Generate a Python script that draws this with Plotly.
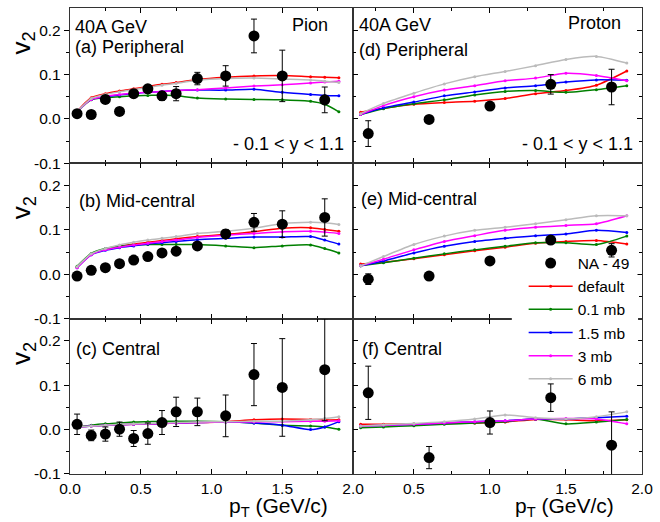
import plotly.graph_objects as go
from plotly.subplots import make_subplots

# ---------------- data ----------------
pion_pt = [0.05, 0.15, 0.25, 0.35, 0.45, 0.55, 0.65, 0.75, 0.9, 1.1, 1.3, 1.5, 1.8]
proton_pt = [0.2, 0.6, 1.0, 1.4, 1.8]
pion_model_pt = [0.05, 0.15, 0.25, 0.35, 0.45, 0.55, 0.65, 0.75, 0.9, 1.1, 1.3, 1.5, 1.7, 1.8, 1.9]
proton_model_pt = [0.15, 0.3, 0.5, 0.7, 0.9, 1.1, 1.3, 1.5, 1.7, 1.9]

model_names = ["default", "0.1 mb", "1.5 mb", "3 mb", "6 mb"]
model_colors = ["#FF0000", "#008000", "#0000FF", "#FF00FF", "#BBBBBB"]

# (a) pion peripheral
a_v2 = [0.012, 0.010, 0.044, 0.017, 0.057, 0.068, 0.052, 0.057, 0.091, 0.097, 0.187, 0.097, 0.043]
a_err = [0.004, 0.004, 0.008, 0.005, 0.008, 0.008, 0.010, 0.016, 0.014, 0.023, 0.038, 0.058, 0.029]
a_default = [0.017, 0.048, 0.057, 0.063, 0.068, 0.073, 0.078, 0.082, 0.089, 0.094, 0.097, 0.098, 0.095, 0.094, 0.093]
a_01mb = [0.016, 0.043, 0.048, 0.050, 0.052, 0.053, 0.054, 0.052, 0.047, 0.045, 0.044, 0.043, 0.040, 0.033, 0.016]
a_15mb = [0.016, 0.044, 0.050, 0.054, 0.057, 0.060, 0.062, 0.064, 0.065, 0.065, 0.067, 0.060, 0.055, 0.053, 0.052]
a_3mb = [0.016, 0.044, 0.051, 0.055, 0.058, 0.060, 0.062, 0.064, 0.066, 0.070, 0.074, 0.077, 0.081, 0.083, 0.085]
a_6mb = [0.016, 0.046, 0.055, 0.061, 0.066, 0.071, 0.076, 0.080, 0.087, 0.091, 0.092, 0.090, 0.088, 0.085, 0.082]

# (b) pion mid-central
b_v2 = [-0.004, 0.009, 0.015, 0.024, 0.032, 0.040, 0.048, 0.052, 0.064, 0.091, 0.117, 0.113, 0.128]
b_err = [0.003, 0.003, 0.003, 0.003, 0.003, 0.004, 0.004, 0.005, 0.006, 0.010, 0.020, 0.030, 0.042]
b_default = [0.016, 0.045, 0.056, 0.063, 0.068, 0.072, 0.076, 0.080, 0.085, 0.090, 0.096, 0.104, 0.105, 0.101, 0.097]
b_01mb = [0.018, 0.047, 0.058, 0.063, 0.066, 0.067, 0.067, 0.067, 0.067, 0.064, 0.060, 0.064, 0.066, 0.058, 0.048]
b_15mb = [0.015, 0.044, 0.054, 0.060, 0.064, 0.068, 0.071, 0.074, 0.078, 0.081, 0.084, 0.084, 0.085, 0.077, 0.068]
b_3mb = [0.015, 0.044, 0.055, 0.061, 0.066, 0.070, 0.074, 0.077, 0.083, 0.088, 0.092, 0.096, 0.097, 0.095, 0.092]
b_6mb = [0.017, 0.046, 0.058, 0.066, 0.072, 0.077, 0.081, 0.085, 0.092, 0.097, 0.104, 0.114, 0.117, 0.116, 0.112]

# (c) pion central
c_v2 = [0.012, -0.013, -0.010, 0.001, -0.020, -0.009, 0.016, 0.040, 0.040, 0.031, 0.124, 0.095, 0.135]
c_err = [0.023, 0.012, 0.016, 0.016, 0.018, 0.024, 0.027, 0.033, 0.031, 0.047, 0.070, 0.110, 0.115]
c_default = [0.006, 0.008, 0.010, 0.011, 0.012, 0.013, 0.014, 0.015, 0.016, 0.018, 0.022, 0.024, 0.023, 0.022, 0.022]
c_01mb = [0.006, 0.010, 0.013, 0.015, 0.017, 0.018, 0.019, 0.019, 0.019, 0.018, 0.015, 0.010, 0.008, 0.006, 0.001]
c_15mb = [0.005, 0.008, 0.010, 0.011, 0.012, 0.013, 0.014, 0.015, 0.016, 0.017, 0.015, 0.010, 0.000, 0.006, 0.018]
c_3mb = [0.005, 0.008, 0.010, 0.011, 0.012, 0.013, 0.014, 0.015, 0.016, 0.017, 0.017, 0.018, 0.019, 0.019, 0.020]
c_6mb = [0.005, 0.008, 0.010, 0.012, 0.013, 0.014, 0.015, 0.016, 0.017, 0.018, 0.019, 0.019, 0.022, 0.025, 0.029]

# (d) proton peripheral
d_v2 = [-0.033, -0.001, 0.029, 0.078, 0.072]
d_err = [0.029, 0.004, 0.005, 0.022, 0.040]
d_default = [0.015, 0.024, 0.033, 0.037, 0.040, 0.046, 0.057, 0.064, 0.076, 0.108]
d_01mb = [0.010, 0.023, 0.034, 0.043, 0.054, 0.062, 0.064, 0.060, 0.066, 0.075]
d_15mb = [0.010, 0.025, 0.038, 0.052, 0.061, 0.070, 0.075, 0.083, 0.088, 0.087]
d_3mb = [0.010, 0.030, 0.050, 0.065, 0.075, 0.086, 0.092, 0.103, 0.098, 0.086]
d_6mb = [0.012, 0.035, 0.058, 0.079, 0.095, 0.107, 0.120, 0.134, 0.141, 0.126]

# (e) proton mid-central
e_v2 = [-0.011, -0.004, 0.030, 0.077, 0.054]
e_err = [0.012, 0.004, 0.004, 0.006, 0.015]
e_default = [0.023, 0.027, 0.035, 0.044, 0.053, 0.061, 0.070, 0.074, 0.076, 0.068]
e_01mb = [0.019, 0.026, 0.036, 0.046, 0.055, 0.063, 0.071, 0.071, 0.067, 0.086]
e_15mb = [0.019, 0.030, 0.048, 0.063, 0.074, 0.081, 0.087, 0.091, 0.099, 0.094]
e_3mb = [0.019, 0.034, 0.055, 0.074, 0.087, 0.099, 0.106, 0.110, 0.114, 0.132]
e_6mb = [0.019, 0.040, 0.067, 0.086, 0.099, 0.106, 0.114, 0.123, 0.132, 0.132]

# (f) proton central
f_v2 = [0.083, -0.063, 0.016, 0.072, -0.035]
f_err = [0.060, 0.025, 0.026, 0.031, 0.075]
f_default = [0.012, 0.012, 0.013, 0.014, 0.015, 0.017, 0.023, 0.022, 0.020, 0.022]
f_01mb = [0.004, 0.006, 0.009, 0.012, 0.015, 0.018, 0.024, 0.013, 0.017, 0.023]
f_15mb = [0.008, 0.010, 0.012, 0.015, 0.018, 0.020, 0.024, 0.024, 0.027, 0.030]
f_3mb = [0.008, 0.010, 0.012, 0.015, 0.018, 0.020, 0.024, 0.025, 0.024, 0.013]
f_6mb = [0.008, 0.011, 0.014, 0.018, 0.024, 0.033, 0.027, 0.024, 0.029, 0.040]

x_ticks_left = [0.0, 0.5, 1.0, 1.5, 2.0]
x_ticks_right = [0.5, 1.0, 1.5, 2.0]
y_ticks = [-0.1, 0.0, 0.1, 0.2]
y_ticktext = ["-0.1", "0.0", "0.1", "0.2"]

FONT = "Liberation Sans, Arial, sans-serif"

panels = [
    # row, col, data x, v2, err, model x, models, zero-line dash
    (1, 1, pion_pt, a_v2, a_err, pion_model_pt, [a_default, a_01mb, a_15mb, a_3mb, a_6mb], "4px,3px"),
    (2, 1, pion_pt, b_v2, b_err, pion_model_pt, [b_default, b_01mb, b_15mb, b_3mb, b_6mb], "3px,2px"),
    (3, 1, pion_pt, c_v2, c_err, pion_model_pt, [c_default, c_01mb, c_15mb, c_3mb, c_6mb], "4px,3px"),
    (1, 2, proton_pt, d_v2, d_err, proton_model_pt, [d_default, d_01mb, d_15mb, d_3mb, d_6mb], "4px,3px"),
    (2, 2, proton_pt, e_v2, e_err, proton_model_pt, [e_default, e_01mb, e_15mb, e_3mb, e_6mb], "3px,2px"),
    (3, 2, proton_pt, f_v2, f_err, proton_model_pt, [f_default, f_01mb, f_15mb, f_3mb, f_6mb], "4px,3px"),
]

fig = make_subplots(rows=3, cols=2, horizontal_spacing=0, vertical_spacing=0,
                    column_widths=[287, 293])

for (r, c, dx, dv, de, mx, models, dash) in panels:
    legend_panel = (r == 2 and c == 2)
    fig.add_hline(y=0, line=dict(color="black", width=1, dash=dash), row=r, col=c)
    for k, (name, color, mv) in enumerate(zip(model_names, model_colors, models)):
        fig.add_trace(go.Scatter(
            x=mx, y=mv, mode="lines+markers", name=name,
            line=dict(color=color, width=1.5, shape="spline", smoothing=0.7),
            marker=dict(color=color, size=3),
            showlegend=legend_panel, legendrank=10 + k,
        ), row=r, col=c)
    fig.add_trace(go.Scatter(
        x=dx, y=dv, mode="markers", name="NA - 49",
        marker=dict(color="black", size=11),
        error_y=dict(type="data", array=de, color="black", thickness=1, width=3),
        showlegend=legend_panel, legendrank=1,
    ), row=r, col=c)

axis_line = dict(showline=True, linecolor="#333333", linewidth=1.3, showgrid=False, zeroline=False)

for r in (1, 2, 3):
    for c in (1, 2):
        fig.update_xaxes(
            range=[0.0, 2.0] if c == 1 else [0.1, 2.0],
            tickvals=x_ticks_left if c == 1 else x_ticks_right,
            tickformat=".1f",
            showticklabels=(r == 3),
            ticks="inside", ticklen=5, tickwidth=1, tickcolor="black",
            minor=dict(tickvals=[0.25, 0.75, 1.25, 1.75], ticks="inside", ticklen=3,
                       tickwidth=1, tickcolor="black"),
            mirror="allticks",
            tickfont=dict(family=FONT, size=15.5, color="black"),
            row=r, col=c, **axis_line)
        fig.update_yaxes(
            range=[-0.1, 0.25],
            tickvals=y_ticks, ticktext=y_ticktext,
            showticklabels=(c == 1),
            ticks="outside" if c == 1 else "inside", ticklen=5, tickwidth=1, tickcolor="black",
            minor=dict(tickvals=[-0.05, 0.05, 0.15], ticks="outside" if c == 1 else "inside",
                       ticklen=3, tickwidth=1, tickcolor="black"),
            mirror=True if c == 1 else "allticks",
            tickfont=dict(family=FONT, size=15.5, color="black"),
            row=r, col=c, **axis_line)


def px(xp):
    return (xp - 70) / 580


def py(yp):
    return 1 - (yp - 7) / 467


ann = []


def text(s, x, y, size=18, xanchor="left", angle=0):
    ann.append(dict(text=s, x=px(x), y=py(y), xref="paper", yref="paper",
                    xanchor=xanchor, yanchor="middle", showarrow=False, textangle=angle,
                    font=dict(family=FONT, size=size, color="black")))


text("40A GeV", 73, 26)
text("(a) Peripheral", 73, 46)
text("Pion", 334, 24, xanchor="right")
text("- 0.1 &lt; y &lt; 1.1", 350, 143, xanchor="right")
text("40A GeV", 361, 24)
text("(d) Peripheral", 361, 49)
text("Proton", 631, 22, xanchor="right")
text("- 0.1 &lt; y &lt; 1.1", 643, 143, xanchor="right")
text("(b) Mid-central", 77, 200)
text("(e) Mid-central", 363, 198)
text("(c) Central", 74, 349)
text("(f) Central", 364, 349)
for yy in (42, 207, 353):
    text("v<sub>2</sub>", 22, yy, size=26, xanchor="center", angle=-90)
text("p<sub>T</sub> (GeV/c)", 281, 507, size=21, xanchor="center")
text("p<sub>T</sub> (GeV/c)", 571, 507, size=21, xanchor="center")

# white backing box behind the legend rows (hides the panel border there)
legend_box = dict(type="rect", xref="paper", yref="paper", layer="above",
                  x0=px(518), x1=px(646), y0=py(379), y1=py(274),
                  fillcolor="white", line=dict(width=0))

fig.update_layout(
    width=660, height=522, autosize=False,
    margin=dict(l=70, r=10, t=7, b=48),
    paper_bgcolor="white", plot_bgcolor="white",
    font=dict(family=FONT, color="black"),
    annotations=ann,
    legend=dict(x=px(530), y=py(246), xanchor="left", yanchor="top",
                bgcolor="rgba(255,255,255,0)", borderwidth=0, itemwidth=44,
                tracegroupgap=0,
                font=dict(family=FONT, size=15.5, color="black")),
)
fig.add_shape(**legend_box)

fig.write_html("out.html", config={"displayModeBar": False},
               post_script="document.body.style.margin='0';document.body.style.padding='0';")
